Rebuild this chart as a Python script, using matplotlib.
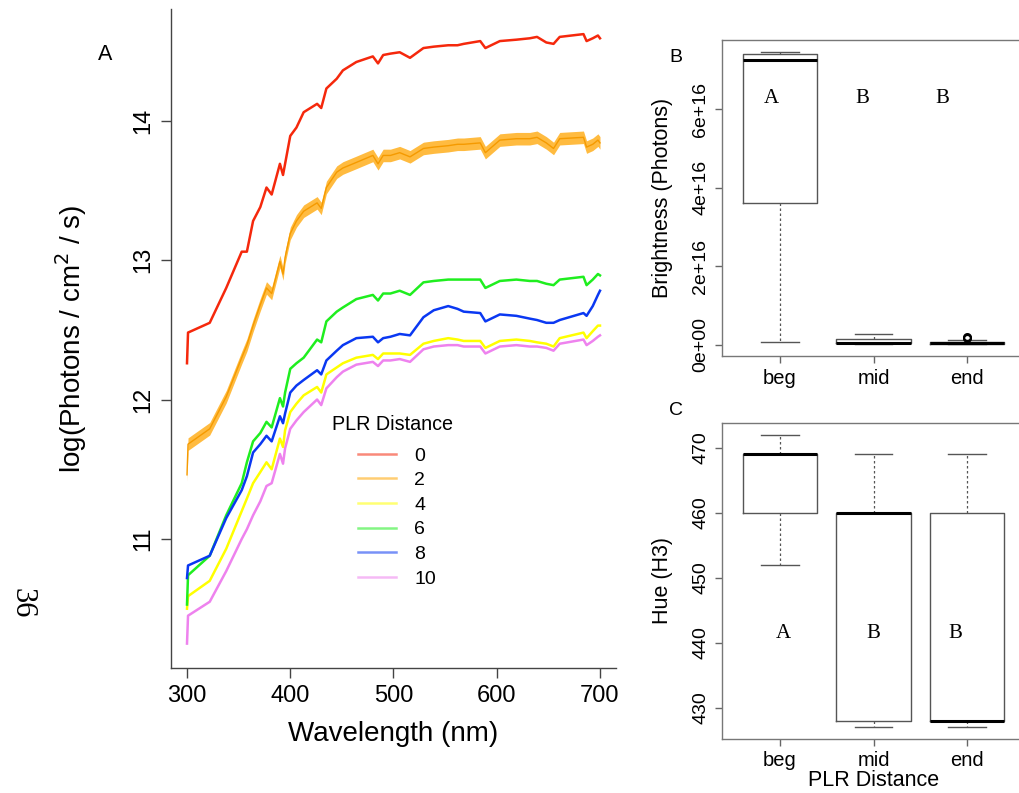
import matplotlib.pyplot as plt
from matplotlib.lines import Line2D

plt.rcParams['font.family'] = ['Liberation Sans', 'DejaVu Sans']

# ---- panel A: spectra, log(photons / cm^2 / s) by PLR distance ----
wavelength = [300, 301, 322, 338, 353, 358, 364, 371, 377, 382, 390, 393, 395, 400,
              406, 413, 426, 430, 435, 445, 451, 464, 480, 485, 490, 497, 506, 516,
              529, 539, 553, 562, 568, 584, 589, 603, 619, 632, 639, 648, 655, 661,
              684, 687, 693, 698, 700]

dist_0 = [12.26, 12.48, 12.55, 12.80, 13.06, 13.06, 13.28, 13.38, 13.52, 13.47, 13.69, 13.61,
          13.69, 13.89, 13.95, 14.06, 14.12, 14.09, 14.23, 14.30, 14.36, 14.42, 14.46, 14.41,
          14.47, 14.48, 14.49, 14.45, 14.52, 14.53, 14.54, 14.54, 14.55, 14.57, 14.52, 14.57,
          14.58, 14.59, 14.60, 14.56, 14.55, 14.60, 14.62, 14.57, 14.59, 14.61, 14.59]
dist_2 = [11.46, 11.68, 11.79, 12.02, 12.30, 12.39, 12.53, 12.68, 12.80, 12.76, 12.99, 12.90,
          13.02, 13.19, 13.28, 13.35, 13.41, 13.37, 13.52, 13.63, 13.66, 13.70, 13.75, 13.69,
          13.75, 13.75, 13.77, 13.74, 13.80, 13.81, 13.82, 13.83, 13.83, 13.84, 13.77, 13.86,
          13.87, 13.87, 13.88, 13.84, 13.80, 13.87, 13.88, 13.81, 13.83, 13.86, 13.84]
dist_4 = [10.50, 10.59, 10.70, 10.93, 11.20, 11.29, 11.40, 11.48, 11.55, 11.50, 11.72, 11.66,
          11.78, 11.91, 11.97, 12.03, 12.09, 12.05, 12.18, 12.23, 12.26, 12.30, 12.32, 12.29,
          12.33, 12.33, 12.33, 12.32, 12.40, 12.42, 12.44, 12.43, 12.42, 12.42, 12.37, 12.42,
          12.43, 12.42, 12.41, 12.40, 12.38, 12.44, 12.48, 12.44, 12.49, 12.53, 12.53]
dist_6 = [10.53, 10.74, 10.88, 11.17, 11.40, 11.55, 11.70, 11.76, 11.84, 11.80, 12.01, 11.95,
          12.05, 12.22, 12.26, 12.30, 12.43, 12.41, 12.56, 12.63, 12.66, 12.72, 12.75, 12.71,
          12.76, 12.76, 12.78, 12.75, 12.84, 12.85, 12.86, 12.86, 12.86, 12.86, 12.80, 12.85,
          12.86, 12.85, 12.85, 12.83, 12.82, 12.86, 12.88, 12.82, 12.86, 12.90, 12.89]
dist_8 = [10.72, 10.81, 10.88, 11.15, 11.35, 11.45, 11.62, 11.68, 11.74, 11.70, 11.88, 11.83,
          11.90, 12.05, 12.10, 12.14, 12.21, 12.18, 12.28, 12.35, 12.39, 12.44, 12.45, 12.41,
          12.44, 12.45, 12.47, 12.46, 12.59, 12.64, 12.67, 12.65, 12.63, 12.62, 12.56, 12.61,
          12.60, 12.58, 12.57, 12.55, 12.55, 12.57, 12.62, 12.60, 12.67, 12.75, 12.78]
dist_10 = [10.25, 10.45, 10.55, 10.77, 11.00, 11.07, 11.17, 11.27, 11.38, 11.40, 11.61, 11.54,
           11.65, 11.79, 11.85, 11.91, 12.00, 11.96, 12.08, 12.16, 12.20, 12.25, 12.27, 12.24,
           12.28, 12.28, 12.29, 12.27, 12.36, 12.38, 12.39, 12.39, 12.38, 12.38, 12.33, 12.38,
           12.39, 12.38, 12.38, 12.37, 12.35, 12.40, 12.43, 12.39, 12.42, 12.45, 12.46]
dist_2_se = 0.045

dist_labels = ['0', '2', '4', '6', '8', '10']
dist_colors = ['#F5280C', '#FFA500', '#FFFF00', '#1FEE1F', '#0A38F2', '#EE82EE']

# ---- panel B: brightness ----
groups = ['beg', 'mid', 'end']
bright_whislo = [0.085e16, 0.02e16, 0.02e16]
bright_q1 = [3.61e16, 0.04e16, 0.03e16]
bright_med = [7.24e16, 0.06e16, 0.05e16]
bright_q3 = [7.40e16, 0.145e16, 0.085e16]
bright_whishi = [7.46e16, 0.28e16, 0.127e16]
bright_fliers = [[], [], [0.17e16, 0.21e16]]
bright_letters = ['A', 'B', 'B']

# ---- panel C: hue ----
hue_whislo = [452, 427, 427]
hue_q1 = [460, 428, 428]
hue_med = [469, 460, 428]
hue_q3 = [469, 460, 460]
hue_whishi = [472, 469, 469]
hue_letters = ['A', 'B', 'B']

W, H = 1019, 793
fig = plt.figure(figsize=(W / 100, H / 100), dpi=100)

axA = fig.add_axes([171 / W, 1 - 668 / H, (616 - 171) / W, (668 - 9) / H])
axB = fig.add_axes([722 / W, 1 - 356 / H, (1025 - 722) / W, (356 - 40) / H])
axC = fig.add_axes([722 / W, 1 - 739 / H, (1025 - 722) / W, (739 - 423) / H])

# panel A
series = [dist_0, dist_2, dist_4, dist_6, dist_8, dist_10]
axA.fill_between(wavelength, [v - dist_2_se for v in dist_2], [v + dist_2_se for v in dist_2],
                 color='#FFA500', alpha=0.75, lw=0)
for vals, col in zip(series, dist_colors):
    if col == '#FFA500':
        axA.plot(wavelength, vals, color='#F59A00', lw=1.0)
    else:
        axA.plot(wavelength, vals, color=col, lw=1.8)

axA.set_xlim(284.5, 715.5)
axA.set_ylim(10.075, 14.80)
axA.set_xticks([300, 400, 500, 600, 700])
axA.set_yticks([11, 12, 13, 14])
for s in ['top', 'right']:
    axA.spines[s].set_visible(False)
for s in ['left', 'bottom']:
    axA.spines[s].set_color('#444444')
    axA.spines[s].set_linewidth(1.0)
axA.tick_params(direction='out', length=7, width=1, color='#444444', labelsize=17, pad=5)
plt.setp(axA.get_yticklabels(), rotation=90, va='center')
axA.set_xlabel('Wavelength (nm)', fontsize=20)
axA.xaxis.set_label_coords(0.5, -0.08)
axA.set_ylabel('log(Photons / cm$^2$ / s)', fontsize=20)
axA.yaxis.set_label_coords(-0.185, 0.5)

fig.text(393 / W, 1 - 425 / H, 'PLR Distance', fontsize=14.2, ha='center', va='center')
handles = [Line2D([], [], color=c, lw=1.8, alpha=0.55) for c in dist_colors]
axA.legend(handles, dist_labels, loc='upper left',
           bbox_to_anchor=(358 / W, 1 - 447 / H), bbox_transform=fig.transFigure,
           frameon=False, fontsize=14, borderpad=0, borderaxespad=0,
           handlelength=1.95, handletextpad=0.95, labelspacing=0.36)

fig.text(105 / W, 1 - 55 / H, 'A', fontsize=15.5, ha='center', va='center')


def draw_box(ax, whislo, q1, med, q3, whishi, fliers):
    stats = []
    for i in range(len(groups)):
        stats.append(dict(whislo=whislo[i], q1=q1[i], med=med[i], q3=q3[i],
                          whishi=whishi[i], fliers=fliers[i], label=groups[i]))
    ax.bxp(stats, positions=[1, 2, 3], widths=0.8, capwidths=0.4,
           boxprops=dict(color='#555555', lw=1),
           medianprops=dict(color='black', lw=2.2),
           whiskerprops=dict(color='#555555', lw=0.9, ls=(0, (2, 2))),
           capprops=dict(color='#555555', lw=1),
           flierprops=dict(marker='o', mfc='none', mec='black', ms=5, mew=1.5))
    ax.set_xlim(0.38, 3.62)
    for s in ax.spines.values():
        s.set_color('#777777')
        s.set_linewidth(1.0)
    ax.tick_params(direction='out', length=5, width=1, color='#666666', labelsize=14.5, pad=4)
    ax.tick_params(axis='y', labelsize=14)


# panel B
draw_box(axB, bright_whislo, bright_q1, bright_med, bright_q3, bright_whishi, bright_fliers)
axB.set_ylim(-0.28e16, 7.76e16)
axB.set_yticks([0, 2e16, 4e16, 6e16])
axB.set_yticklabels(['0e+00', '2e+16', '4e+16', '6e+16'], rotation=90, va='center')
axB.set_ylabel('Brightness (Photons)', fontsize=15.5)
axB.yaxis.set_label_coords(-0.162, 0.5)
for x, letter in zip([0.91, 1.88, 2.74], bright_letters):
    axB.text(x, 6.28e16, letter, family='Liberation Serif', fontsize=15, ha='center', va='center')
fig.text(676 / W, 1 - 58 / H, 'B', fontsize=14, ha='center', va='center')

# panel C
fliers_none = [[], [], []]
draw_box(axC, hue_whislo, hue_q1, hue_med, hue_q3, hue_whishi, fliers_none)
axC.set_ylim(425.2, 473.8)
axC.set_yticks([430, 440, 450, 460, 470])
plt.setp(axC.get_yticklabels(), rotation=90, va='center')
axC.set_ylabel('Hue (H3)', fontsize=15.5)
axC.yaxis.set_label_coords(-0.162, 0.5)
axC.set_xlabel('PLR Distance', fontsize=15.5, labelpad=0)
for x, letter in zip([1.04, 2.0, 2.88], hue_letters):
    axC.text(x, 441.4, letter, family='Liberation Serif', fontsize=15, ha='center', va='center')
fig.text(676 / W, 1 - 410 / H, 'C', fontsize=14, ha='center', va='center')

# page number of the scanned page
fig.text(22 / W, 1 - 603 / H, '36', family='Liberation Serif', fontsize=22,
         rotation=-90, ha='center', va='center')

fig.savefig('out.png', dpi=100)
